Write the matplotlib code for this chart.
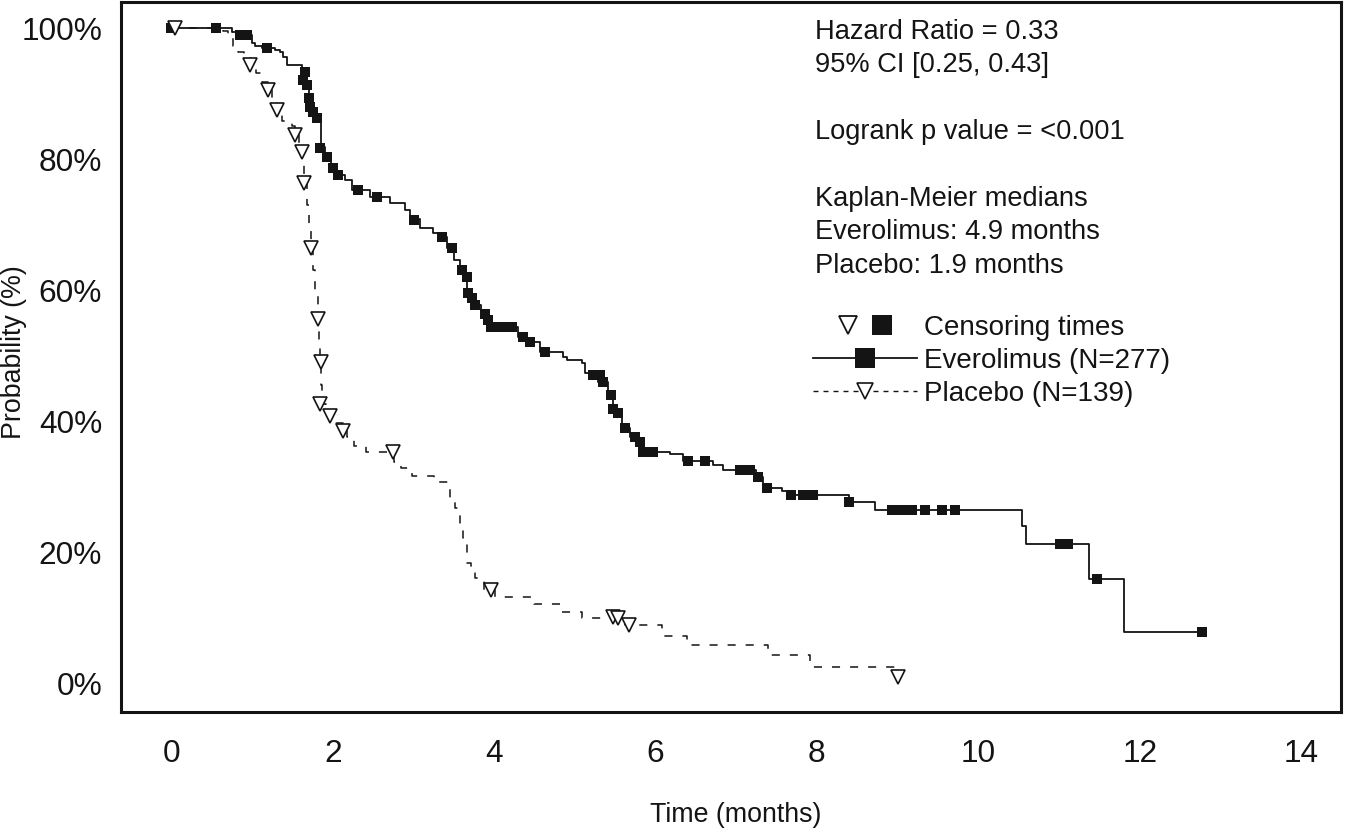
import numpy as np
import matplotlib
matplotlib.use('Agg')
from matplotlib import pyplot as plt
from matplotlib.lines import Line2D
from matplotlib.legend_handler import HandlerTuple

plt.rcParams['font.family'] = ['Liberation Sans', 'DejaVu Sans']
plt.rcParams['lines.scale_dashes'] = False

# Everolimus: step curve (time in months, survival in %)
evr_t = [0, 0.75, 0.81, 1.00, 1.04, 1.12, 1.28, 1.35, 1.38, 1.43, 1.62, 1.64, 1.68,
         1.71, 1.72, 1.76, 1.79, 1.86, 1.90, 1.98, 2.04, 2.15, 2.24, 2.46, 2.71, 2.90,
         2.96, 3.08, 3.24, 3.30, 3.42, 3.50, 3.58, 3.64, 3.66, 3.70, 3.75, 3.84, 3.90,
         3.92, 4.30, 4.41, 4.57, 4.85, 4.90, 5.09, 5.13, 5.29, 5.41, 5.47, 5.51, 5.58,
         5.68, 5.77, 5.81, 6.18, 6.34, 6.71, 6.84, 7.24, 7.33, 7.57, 7.63, 8.40, 8.72,
         10.54, 10.59, 11.37, 11.80, 12.77]
evr_s = [100, 99.4, 99.0, 97.7, 97.3, 97.0, 96.7, 96.3, 95.6, 94.4, 93.3, 92.1, 91.3,
         89.3, 88.0, 87.2, 86.3, 81.9, 80.4, 78.7, 77.6, 76.9, 75.3, 74.3, 73.3, 72.3,
         70.9, 69.5, 68.8, 68.2, 66.5, 64.7, 63.1, 62.1, 59.6, 58.8, 57.8, 56.4, 55.5,
         54.5, 52.9, 52.2, 50.6, 49.9, 49.4, 48.9, 47.4, 46.0, 44.4, 41.9, 41.3, 39.0,
         37.7, 36.9, 35.4, 35.1, 34.0, 33.4, 32.6, 31.6, 29.9, 29.4, 28.8, 27.8, 26.5,
         24.1, 21.4, 16.0, 7.9, 7.9]

# Everolimus censoring times
evr_ct = [0.0, 0.55, 0.85, 0.94, 1.19, 1.66, 1.63, 1.68, 1.71, 1.72, 1.76, 1.81, 1.84,
          1.93, 2.00, 2.06, 2.31, 2.55, 3.01, 3.35, 3.48, 3.60, 3.66, 3.67, 3.72, 3.76,
          3.89, 3.92, 3.96, 4.05, 4.13, 4.22, 4.36, 4.45, 4.63, 5.22, 5.31, 5.35, 5.45,
          5.47, 5.54, 5.62, 5.74, 5.81, 5.84, 5.97, 6.40, 6.61, 7.05, 7.17, 7.27, 7.38,
          7.68, 7.83, 7.95, 8.40, 8.93, 9.06, 9.18, 9.34, 9.55, 9.71, 11.01, 11.11,
          11.47, 12.77]
evr_cs = [100, 100, 99.0, 99.0, 97.0, 93.3, 92.1, 91.3, 89.3, 88.0, 87.2, 86.3, 81.7,
          80.4, 78.7, 77.6, 75.3, 74.3, 70.8, 68.2, 66.5, 63.1, 62.1, 59.6, 58.8, 57.8,
          56.4, 55.5, 54.4, 54.4, 54.4, 54.4, 52.9, 52.2, 50.6, 47.1, 47.1, 46.0, 44.1,
          41.9, 41.3, 39.0, 37.7, 36.9, 35.4, 35.4, 34.0, 34.0, 32.6, 32.6, 31.6, 29.9,
          28.8, 28.8, 28.8, 27.8, 26.5, 26.5, 26.5, 26.5, 26.5, 26.5, 21.4, 21.4,
          16.0, 7.9]

# Placebo: step curve
pbo_t = [0, 0.64, 0.70, 0.76, 0.83, 0.90, 0.98, 1.05, 1.12, 1.20, 1.25, 1.31, 1.37,
         1.49, 1.53, 1.58, 1.62, 1.63, 1.64, 1.68, 1.71, 1.73, 1.76, 1.78, 1.82, 1.83,
         1.84, 1.85, 1.87, 1.92, 1.97, 2.04, 2.13, 2.18, 2.26, 2.41, 2.76, 2.85, 2.98,
         3.26, 3.45, 3.52, 3.58, 3.61, 3.66, 3.71, 3.76, 3.87, 4.01, 4.50, 4.84, 5.09,
         5.62, 6.08, 6.39, 7.39, 7.91, 8.98, 9.00]
pbo_s = [100, 99.6, 98.5, 97.3, 96.4, 95.5, 94.4, 93.2, 91.8, 90.6, 89.1, 87.5, 85.8,
         85.1, 83.7, 82.5, 81.1, 79.1, 76.4, 73.0, 70.0, 66.5, 63.1, 59.3, 55.6, 52.5,
         49.1, 45.6, 42.7, 41.8, 40.9, 39.8, 38.6, 37.7, 36.3, 35.4, 33.9, 33.0, 31.7,
         30.8, 28.1, 26.8, 23.5, 22.3, 18.5, 16.9, 16.2, 14.3, 13.3, 12.2, 11.0, 10.1,
         9.0, 7.3, 5.9, 4.4, 2.6, 1.1, 1.1]

# Placebo censoring times
pbo_ct = [0.04, 0.98, 1.20, 1.31, 1.53, 1.62, 1.64, 1.73, 1.82, 1.85, 1.84, 1.97,
          2.13, 2.75, 3.96, 5.47, 5.53, 5.67, 9.00]
pbo_cs = [100, 94.4, 90.6, 87.5, 83.7, 81.1, 76.4, 66.5, 55.6, 49.1, 42.7, 40.9,
          38.6, 35.4, 14.3, 10.2, 10.1, 9.0, 1.1]

x_ticks = [0, 2, 4, 6, 8, 10, 12, 14]
y_ticks = [0, 20, 40, 60, 80, 100]

stats_text = ("Hazard Ratio = 0.33\n95% CI [0.25, 0.43]\n\nLogrank p value = <0.001\n\n"
              "Kaplan-Meier medians\nEverolimus: 4.9 months\nPlacebo: 1.9 months")

ink = '#141414'

fig = plt.figure(figsize=(13.45, 8.38), dpi=100)
ax = fig.add_axes([0.0896, 0.1498, 0.9074, 0.8484])

ax.step(pbo_t, pbo_s, where='post', color=ink, lw=1.1, dashes=(5.8, 7.2))
ax.step(evr_t, evr_s, where='post', color=ink, lw=1.3)
ax.plot(evr_ct, evr_cs, 's', color=ink, ms=7.7, mew=0, linestyle='none')
ax.plot(pbo_ct, pbo_cs, 'v', mfc='white', mec=ink, ms=10, mew=1.2, linestyle='none')

ax.set_xlim(-0.63, 14.494)
ax.set_ylim(-4.35, 104.07)
ax.set_xticks(x_ticks)
ax.set_yticks(y_ticks)
ax.set_yticklabels([f"{v}%" for v in y_ticks])
ax.tick_params(length=0, labelsize=22.8, colors=ink)
ax.tick_params(axis='x', pad=19.3)
ax.tick_params(axis='y', pad=13.3)
for sp in ax.spines.values():
    sp.set_linewidth(2.2)
    sp.set_color(ink)

ax.set_xlabel('Time (months)', fontsize=19.3, color=ink)
ax.xaxis.set_label_coords(0.504, -0.144)
ax.xaxis.label.set_va('center')
ax.set_ylabel('Probability (%)', fontsize=19.3, color=ink)
ax.yaxis.set_label_coords(-0.087, 0.507)
ax.yaxis.label.set_va('center')

fig.text(0.606, 0.9775, stats_text, fontsize=19.6, color=ink, va='top', ha='left',
         linespacing=1.37)

# legenda
tri = Line2D([], [], marker='v', mfc='white', mec=ink, ms=13, mew=1.3, linestyle='none')
sq = Line2D([], [], marker='s', color=ink, ms=14, mew=0, linestyle='none')
h_evr = Line2D([], [], marker='s', color=ink, ms=15, mew=0, lw=1.3)
h_pbo = Line2D([], [], marker='v', mfc='white', mec=ink, color=ink, ms=11, mew=1.2,
               lw=1.0, dashes=(3.6, 3.6))
fig.legend(handles=[(tri, sq), h_evr, h_pbo],
           labels=['Censoring times', 'Everolimus (N=277)', 'Placebo (N=139)'],
           handler_map={tuple: HandlerTuple(ndivide=None, pad=-1.29)},
           loc='upper left', bbox_to_anchor=(0.6045, 0.6247), bbox_transform=fig.transFigure,
           frameon=False, borderpad=0, borderaxespad=0, fontsize=20,
           handlelength=3.75, handletextpad=0.25, labelspacing=0.26, numpoints=1,
           labelcolor=ink)

fig.savefig('out.png', dpi=100)
